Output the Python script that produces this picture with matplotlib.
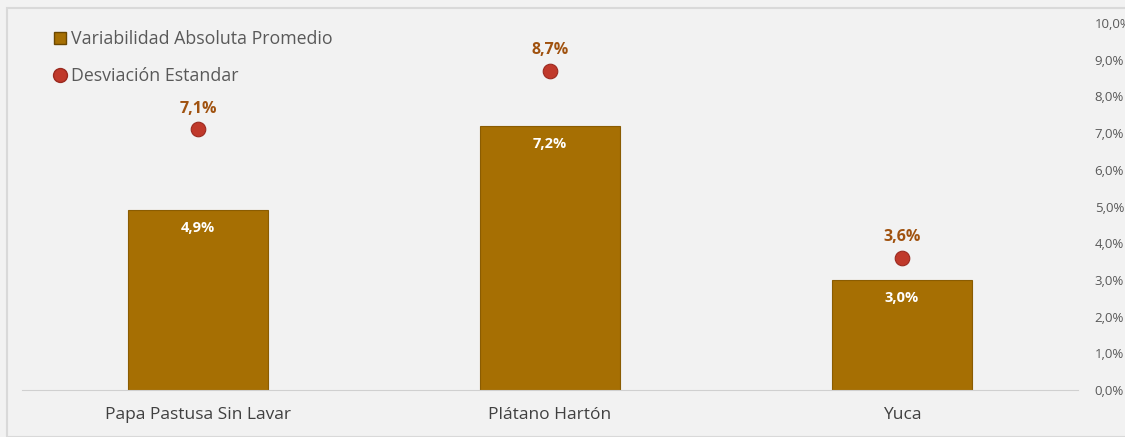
import matplotlib
matplotlib.use("Agg")
import matplotlib.pyplot as plt
from matplotlib.patches import Rectangle
from matplotlib.lines import Line2D

categories = ["Papa Pastusa Sin Lavar", "Plátano Hartón", "Yuca"]
variabilidad = [4.9, 7.2, 3.0]
desviacion = [7.1, 8.7, 3.6]
yticks = [0, 1, 2, 3, 4, 5, 6, 7, 8, 9, 10]
series_names = ["Variabilidad Absoluta Promedio", "Desviación Estandar"]

plt.rcParams['font.family'] = ['Open Sans', 'DejaVu Sans']

W, H = 1125, 437
fig = plt.figure(figsize=(W / 100, H / 100), dpi=100)
fig.patch.set_facecolor("#f2f2f2")
fig.add_artist(Rectangle((7 / W, 0), 1.2, (H - 8) / H, transform=fig.transFigure,
                         fill=False, edgecolor="#d9d9d9", lw=1.5))

ax = fig.add_axes([22 / W, (H - 390) / H, (1078 - 22) / W, (390 - 23) / H])
ax.set_facecolor("#f2f2f2")
x = list(range(len(categories)))
bar_color = "#a66f03"
ax.bar(x, variabilidad, width=0.4, color=bar_color, edgecolor="#8a5c02", lw=0.8, zorder=2)
ax.scatter(x, desviacion, s=110, color="#c0392b", edgecolor="#9b2a20", lw=0.8, zorder=3)

for xi, v in zip(x, variabilidad):
    ax.text(xi, v - 0.3, f"{v:.1f}%".replace(".", ","), ha="center", va="top",
            color="white", fontsize=10.5, fontweight="bold", zorder=4)
for xi, v in zip(x, desviacion):
    ax.text(xi, v + 0.35, f"{v:.1f}%".replace(".", ","), ha="center", va="bottom",
            color="#a0520f", fontsize=11.5, fontweight="bold", zorder=4)

ax.set_xlim(-0.5, 2.5)
ax.set_ylim(0, 10)
ax.set_xticks(x)
ax.set_xticklabels(categories, fontsize=12.5, color="#404040")
ax.tick_params(axis="x", length=0, pad=12)
ax.yaxis.tick_right()
ax.set_yticks(yticks)
ax.set_yticklabels([f"{t:.1f}%".replace(".", ",") for t in yticks], fontsize=9.5, color="#595959")
ax.tick_params(axis="y", length=0, pad=12)
for s in ["top", "left", "right"]:
    ax.spines[s].set_visible(False)
ax.spines["bottom"].set_color("#d0d0d0")

handles = [Line2D([], [], marker="s", ls="", color=bar_color, markeredgecolor="#6b4700", markersize=9),
           Line2D([], [], marker="o", ls="", color="#c0392b", markeredgecolor="#9b2a20", markersize=10)]
leg = ax.legend(handles, series_names, loc="upper left", bbox_to_anchor=(22 / (1078 - 22), 1.0),
                frameon=False, fontsize=12.8, handletextpad=0.1, labelspacing=1.05,
                handlelength=1.0, borderaxespad=0.0)
for t in leg.get_texts():
    t.set_color("#595959")

fig.savefig("out.png", dpi=100, facecolor=fig.get_facecolor())
